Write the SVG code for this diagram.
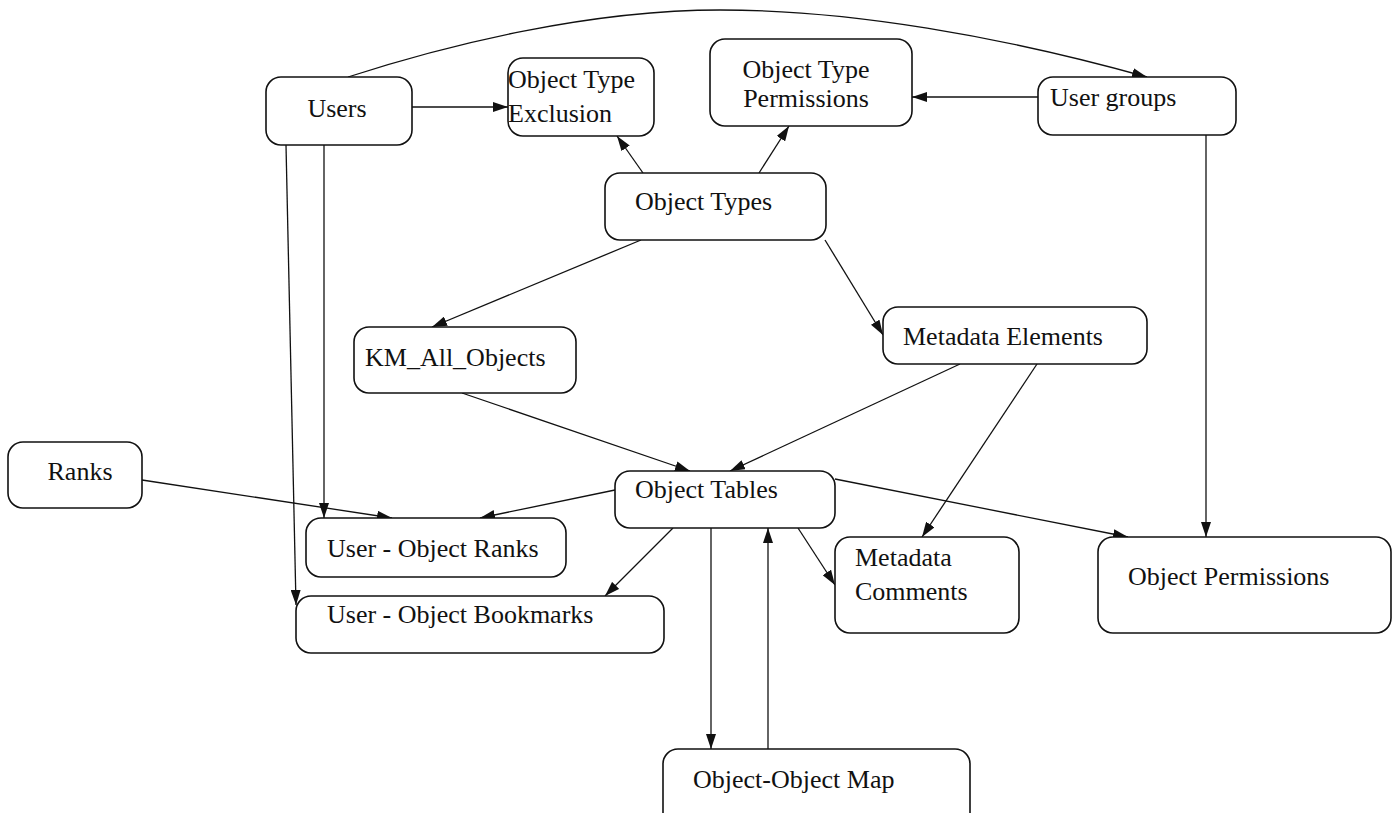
<svg xmlns="http://www.w3.org/2000/svg" width="1394" height="813" viewBox="0 0 1394 813">
<defs>
<style>
.node rect{fill:#fff;stroke:#111;stroke-width:1.6}
.node text{font-family:"Liberation Serif","Times New Roman",serif;font-size:26px;fill:#111}
.edges path{fill:none;stroke:#111;stroke-width:1.3;marker-end:url(#ah)}
</style>
<marker id="ah" viewBox="0 0 15 10" refX="15" refY="5" markerWidth="15" markerHeight="10" markerUnits="userSpaceOnUse" orient="auto">
<path d="M0,0 L15,5 L0,10 z" fill="#111"/>
</marker>
</defs>
<rect width="1394" height="813" fill="#fff"/>
<g class="edges">
<path d="M412,107 L508,107"/>
<path d="M348,77 C450,44 590,10 720,10 C850,10 1000,36 1147,77"/>
<path d="M1038,97 L912,97"/>
<path d="M643,173 L617,136"/>
<path d="M759,173 L789,126"/>
<path d="M641,240 L432,327"/>
<path d="M825,240 L883,335"/>
<path d="M462,393 L690,471"/>
<path d="M960,364 L730,471"/>
<path d="M1037,364 L922,537"/>
<path d="M142,480 L392,518"/>
<path d="M615,490 L480,518"/>
<path d="M673,528 L605,596"/>
<path d="M798,528 L835,585"/>
<path d="M835,479 L1128,537"/>
<path d="M1206,135 L1206,537"/>
<path d="M324,145 L324,518"/>
<path d="M286,145 L296,605"/>
<path d="M711,528 L711,749"/>
<path d="M768,749 L768,528"/>
</g>
<g id="users" class="node"><rect x="266" y="77" width="146" height="68" rx="15"/><text x="337" y="117" text-anchor="middle">Users</text></g>
<g id="object-type-exclusion" class="node"><rect x="508" y="58" width="146" height="78" rx="15"/><text x="508" y="88">Object Type</text><text x="508" y="122">Exclusion</text></g>
<g id="object-type-permissions" class="node"><rect x="710" y="39" width="202" height="87" rx="15"/><text x="806" y="78" text-anchor="middle">Object Type</text><text x="806" y="107" text-anchor="middle">Permissions</text></g>
<g id="user-groups" class="node"><rect x="1038" y="77" width="198" height="58" rx="15"/><text x="1050" y="106">User groups</text></g>
<g id="object-types" class="node"><rect x="605" y="173" width="221" height="67" rx="15"/><text x="635" y="210">Object Types</text></g>
<g id="km-all-objects" class="node"><rect x="354" y="327" width="222" height="66" rx="15"/><text x="365" y="366">KM_All_Objects</text></g>
<g id="metadata-elements" class="node"><rect x="883" y="307" width="264" height="57" rx="15"/><text x="903" y="345">Metadata Elements</text></g>
<g id="ranks" class="node"><rect x="8" y="442" width="134" height="66" rx="15"/><text x="80" y="480" text-anchor="middle">Ranks</text></g>
<g id="object-tables" class="node"><rect x="615" y="471" width="220" height="57" rx="15"/><text x="635" y="498">Object Tables</text></g>
<g id="user-object-ranks" class="node"><rect x="306" y="518" width="260" height="59" rx="15"/><text x="327" y="557">User - Object Ranks</text></g>
<g id="user-object-bookmarks" class="node"><rect x="296" y="596" width="368" height="57" rx="15"/><text x="327" y="623">User - Object Bookmarks</text></g>
<g id="metadata-comments" class="node"><rect x="835" y="537" width="184" height="96" rx="15"/><text x="855" y="566">Metadata</text><text x="855" y="600">Comments</text></g>
<g id="object-permissions" class="node"><rect x="1098" y="537" width="293" height="96" rx="15"/><text x="1128" y="585">Object Permissions</text></g>
<g id="object-object-map" class="node"><rect x="663" y="749" width="307" height="82" rx="15"/><text x="693" y="788">Object-Object Map</text></g>
</svg>
